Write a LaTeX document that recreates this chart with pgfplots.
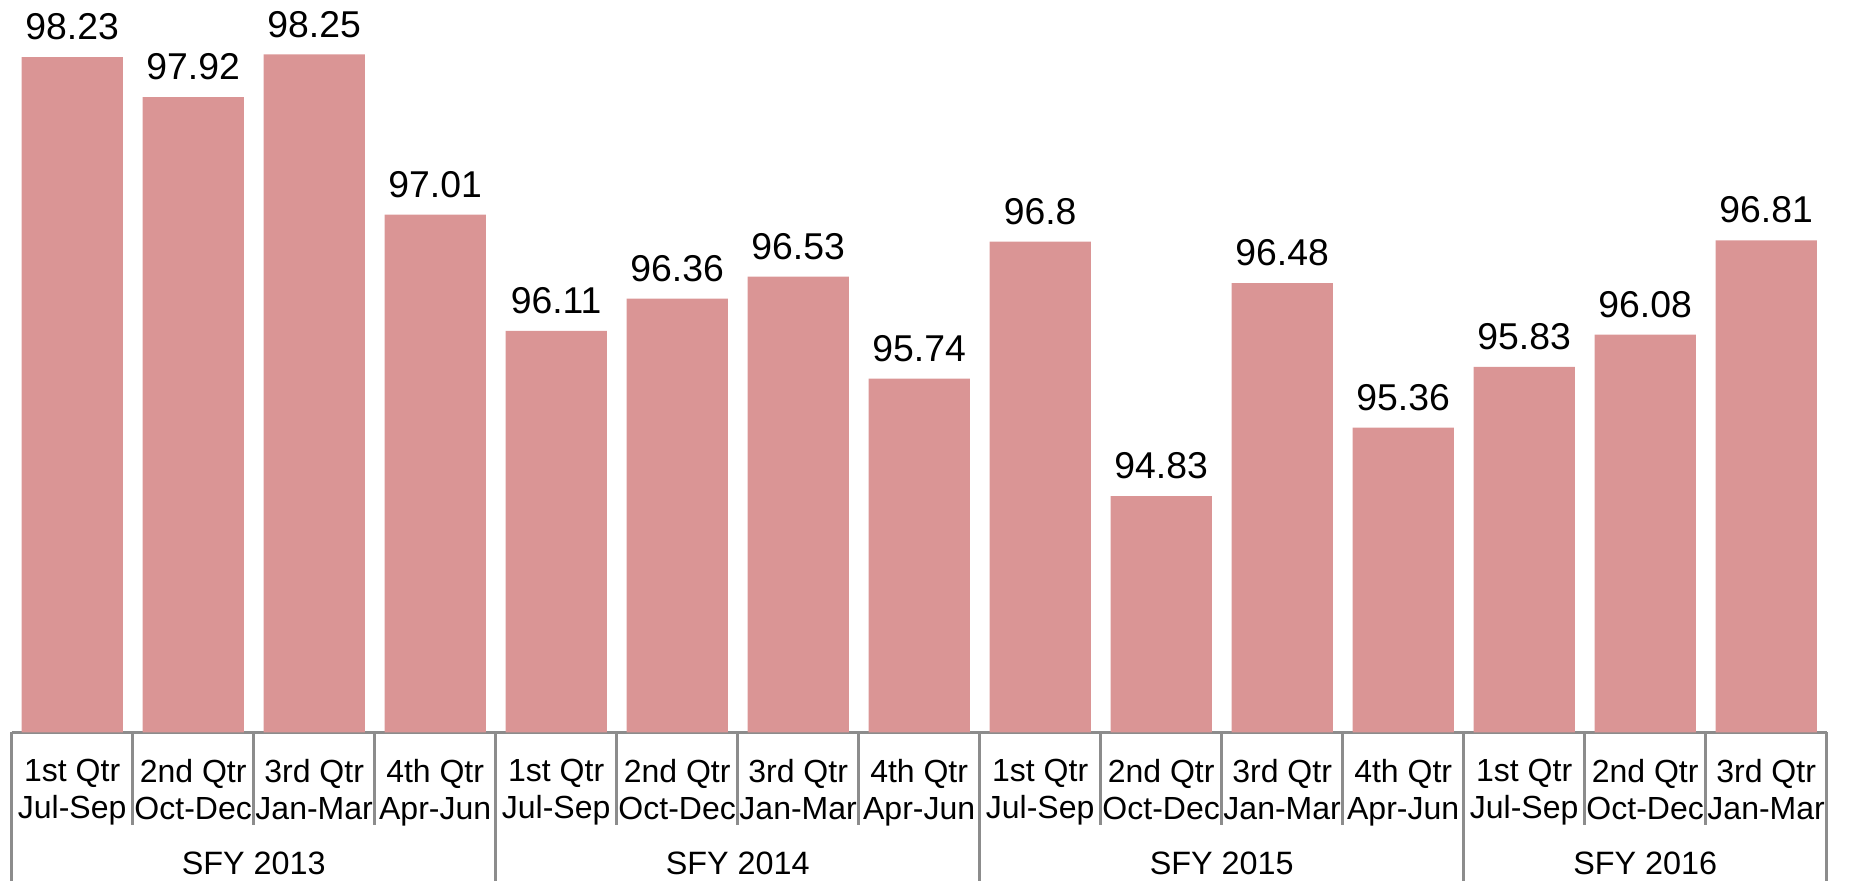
\documentclass[border=0pt]{standalone}
\usepackage{fontspec}
\setmainfont{Liberation Sans}
\usepackage{pgfplots}
\pgfplotsset{compat=1.18}
\definecolor{barpink}{RGB}{218,149,149}
\definecolor{linegray}{RGB}{140,140,140}
\begin{document}
\begin{tikzpicture}
\begin{axis}[
    at={(0,0)}, anchor=south west,
    width=544.5pt, height=219.5pt,
    scale only axis,
    ybar, bar width=30.4pt,
    xmin=-0.5, xmax=14.5,
    ymin=93, ymax=98.667,
    axis x line*=bottom,
    hide y axis,
    axis line style={linegray, line width=0.8pt},
    tick align=outside,
    xtick pos=bottom,
    xtick={0,...,14},
    major tick length=0pt,
    xticklabels={{1st Qtr\\Jul-Sep},{2nd Qtr\\Oct-Dec},{3rd Qtr\\Jan-Mar},{4th Qtr\\Apr-Jun},
                 {1st Qtr\\Jul-Sep},{2nd Qtr\\Oct-Dec},{3rd Qtr\\Jan-Mar},{4th Qtr\\Apr-Jun},
                 {1st Qtr\\Jul-Sep},{2nd Qtr\\Oct-Dec},{3rd Qtr\\Jan-Mar},{4th Qtr\\Apr-Jun},
                 {1st Qtr\\Jul-Sep},{2nd Qtr\\Oct-Dec},{3rd Qtr\\Jan-Mar}},
    xticklabel style={align=center, font=\fontsize{9.6}{11}\selectfont, anchor=north, yshift=-4.6pt, inner xsep=0pt},
    minor xtick={0.5,1.5,...,13.5},
    minor tick length=27.8pt,
    every tick/.style={linegray, line width=0.8pt},
    extra x ticks={-0.5,3.5,7.5,11.5,14.5},
    extra x tick labels={,,,,},
    extra x tick style={major tick length=44.6pt},
    nodes near coords,
    every node near coord/.append style={font=\fontsize{11.2}{12}\selectfont, black, yshift=1.6pt},
    /pgf/number format/assume math mode=true,
    clip=false,
]
\addplot[fill=barpink, draw=none] coordinates {
    (0,98.23) (1,97.92) (2,98.25) (3,97.01)
    (4,96.11) (5,96.36) (6,96.53) (7,95.74)
    (8,96.8)  (9,94.83) (10,96.48) (11,95.36)
    (12,95.83) (13,96.08) (14,96.81)
};
\node[font=\fontsize{9.7}{11}\selectfont] at (axis cs:1.5,93) [yshift=-39.3pt] {SFY 2013};
\node[font=\fontsize{9.7}{11}\selectfont] at (axis cs:5.5,93) [yshift=-39.3pt] {SFY 2014};
\node[font=\fontsize{9.7}{11}\selectfont] at (axis cs:9.5,93) [yshift=-39.3pt] {SFY 2015};
\node[font=\fontsize{9.7}{11}\selectfont] at (axis cs:13,93) [yshift=-39.3pt] {SFY 2016};
\end{axis}
\pgfresetboundingbox
\path[use as bounding box] (-3.5pt,-44.6pt) rectangle (551.8pt,219.7pt);
\end{tikzpicture}
\end{document}
